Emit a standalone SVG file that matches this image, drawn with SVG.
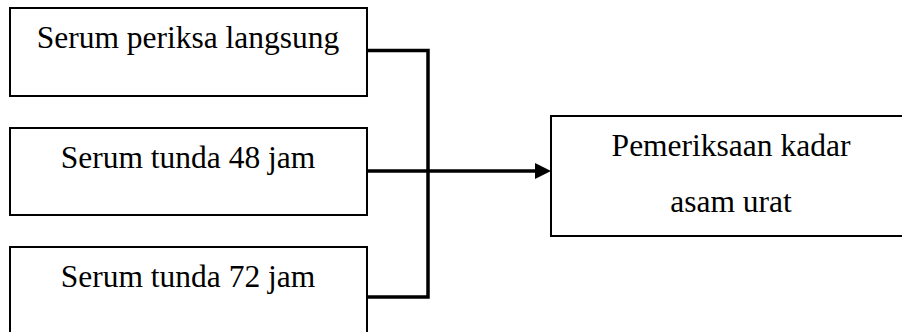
<svg xmlns="http://www.w3.org/2000/svg" width="902" height="332" viewBox="0 0 902 332">
<style>
.box{fill:#fff;stroke:#000;stroke-width:2}
.lbl{font-family:"Liberation Serif","Times New Roman",serif;font-size:31.5px;fill:#000;text-anchor:middle}
.conn{fill:none;stroke:#000;stroke-width:3.5}
</style>
<rect width="902" height="332" fill="#fff"/>
<g id="node-langsung">
<rect class="box" x="10" y="8" width="357" height="88"/>
<text class="lbl" x="188" y="48">Serum periksa langsung</text>
</g>
<g id="node-48">
<rect class="box" x="10" y="128" width="357" height="87"/>
<text class="lbl" x="188" y="168">Serum tunda 48 jam</text>
</g>
<g id="node-72">
<rect class="box" x="10" y="247" width="357" height="90"/>
<text class="lbl" x="188" y="287">Serum tunda 72 jam</text>
</g>
<g id="node-pemeriksaan">
<rect class="box" x="551" y="116" width="400" height="120"/>
<text class="lbl" x="731" y="156">Pemeriksaan kadar</text>
<text class="lbl" x="731" y="212">asam urat</text>
</g>
<g id="connectors">
<path class="conn" d="M367 50.5 H428 V297 H367"/>
<path class="conn" d="M367 171 H537"/>
<polygon points="535,163 551,171 535,179" fill="#000"/>
</g>
</svg>
